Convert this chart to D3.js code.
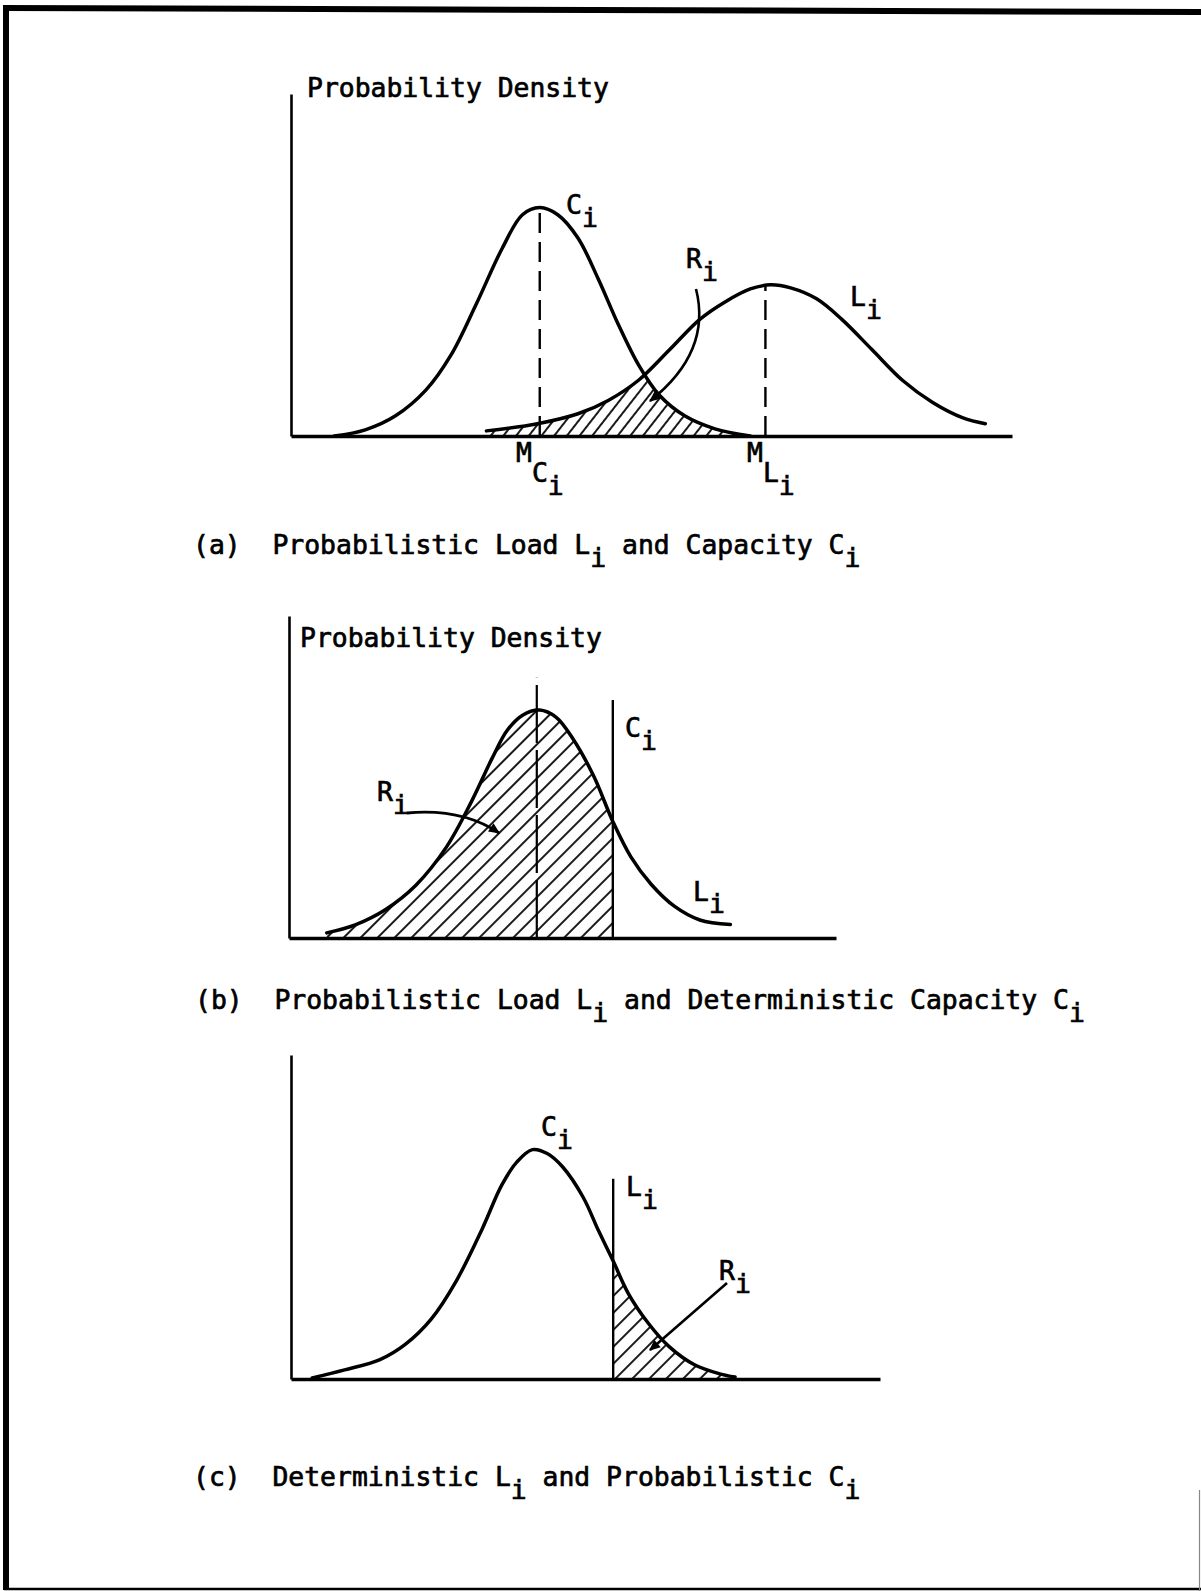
<!DOCTYPE html>
<html>
<head>
<meta charset="utf-8">
<script src="https://cdn.jsdelivr.net/npm/d3@7"></script>
<style>
  html, body { margin: 0; padding: 0; background: #fff; }
  svg { display: block; }
  text { font-family: "DejaVu Sans Mono", "Liberation Mono", monospace; fill: #000; stroke: #000; stroke-width: 0.7px; white-space: pre; }
</style>
</head>
<body>
<svg id="fig" width="1201" height="1591"></svg>
<script>
// ---- data (x: 0-100 along the horizontal axis, y: 0-100 up the vertical axis) ----

// (a) probabilistic capacity C_i and load L_i
const capacityA = [[6.0,0],[10.3,1.8],[14.5,5.9],[18.7,13.4],[22.2,23.7],[25.7,38.6],[29.3,54.9],[32.1,64.7],[34.5,66.8],[37.0,64.7],[39.8,57.9],[42.6,46.0],[45.4,32.6],[48.2,20.8],[51.1,11.9],[54.6,5.9],[58.8,2.1],[63.7,0]];
const loadA = [[27.1,1.5],[34.2,3.6],[39.8,6.5],[44.0,10.4],[48.2,16.3],[52.5,25.2],[56.7,34.1],[60.2,39.2],[63.7,43.0],[66.5,44.2],[69.3,43.3],[72.9,40.1],[76.4,34.1],[80.6,25.2],[84.8,16.3],[89.0,9.8],[93.2,5.3],[96.3,3.6]];
const meanCapacityA = 34.5;   // M_Ci
const meanLoadA = 65.8;       // M_Li

// (b) probabilistic load L_i, deterministic capacity C_i
const loadB = [[6.9,1.6],[12.1,4.1],[17.6,8.8],[23.2,16.4],[28.8,28.3],[33.4,42.5],[37.1,55.7],[39.9,64.5],[42.7,69.2],[45.8,70.8],[48.8,68.6],[51.9,61.9],[55.7,50.3],[59.2,36.2],[62.5,25.2],[66.2,16.7],[70.5,9.8],[75.1,5.6],[80.7,4.2]];
const meanLoadB = 45.3;
const meanLineTopB = 80.8;
const capacityB = 59.2;
const capacityLineTopB = 73.9;

// (c) deterministic load L_i, probabilistic capacity C_i
const capacityC = [[3.6,0.3],[9.1,2.8],[15.1,6.0],[19.4,10.7],[23.8,18.5],[28.1,30.4],[32.4,46.1],[35.8,59.9],[38.4,67.1],[41.0,70.8],[43.5,69.6],[46.1,65.5],[49.6,56.1],[52.2,45.8],[54.7,36.4],[57.3,26.3],[60.8,16.9],[64.2,10.0],[68.5,4.4],[72.8,1.6],[75.4,0.6]];
const loadC = 54.7;
const loadLineTopC = 61.8;

// text: [string, baseline offset in px] pieces
const axisTitle = "Probability Density";
const captionA = [["(a)  Probabilistic Load L",0],["i",13],[" and Capacity C",0],["i",13]];
const captionB = [["(b)  Probabilistic Load L",0],["i",13],[" and Deterministic Capacity C",0],["i",13]];
const captionC = [["(c)  Deterministic L",0],["i",13],[" and Probabilistic C",0],["i",13]];

// ---- drawing ----
const FS = 26.4;
const svg = d3.select("#fig");
const defs = svg.append("defs");

// page frame
const frame = svg.append("g").attr("stroke", "#000").attr("fill", "none");
frame.append("line").attr("x1", 3).attr("y1", 8).attr("x2", 1201).attr("y2", 12).attr("stroke-width", 6);
frame.append("line").attr("x1", 6).attr("y1", 6).attr("x2", 6).attr("y2", 1590).attr("stroke-width", 6);
frame.append("line").attr("x1", 4).attr("y1", 1589).attr("x2", 1201).attr("y2", 1589).attr("stroke-width", 2.5);
frame.append("line").attr("x1", 1199.5).attr("y1", 1490).attr("x2", 1199.5).attr("y2", 1591).attr("stroke-width", 1.2).attr("stroke", "#888");

function hatchPattern(id, spacing, angle) {
  const p = defs.append("pattern").attr("id", id)
    .attr("patternUnits", "userSpaceOnUse")
    .attr("width", spacing).attr("height", spacing)
    .attr("patternTransform", `rotate(${angle})`);
  p.append("line").attr("x1", spacing / 2).attr("y1", -1).attr("x2", spacing / 2).attr("y2", spacing + 1)
    .attr("stroke", "#000").attr("stroke-width", 1.8);
}
hatchPattern("hatchA", 10, 38);
hatchPattern("hatchB", 12, 45);
hatchPattern("hatchC", 12, 45);

defs.append("marker").attr("id", "arrowHead")
  .attr("viewBox", "0 0 10 10").attr("refX", 9).attr("refY", 5)
  .attr("markerWidth", 13).attr("markerHeight", 11).attr("markerUnits", "userSpaceOnUse")
  .attr("orient", "auto")
  .append("path").attr("d", "M0,0.5 L10,5 L0,9.5 z").attr("fill", "#000");

function label(g, x, y, parts, size) {
  const t = g.append("text").attr("x", x).attr("y", y).attr("font-size", size || FS);
  let shift = 0;
  parts.forEach(([s, off]) => {
    t.append("tspan").attr("dy", off - shift).text(s);
    shift = off;
  });
  return t;
}

function makePanel(box) {
  const x = d3.scaleLinear().domain([0, 100]).range([box.x0, box.x1]);
  const y = d3.scaleLinear().domain([0, 100]).range([box.yBase, box.yTop]);
  const line = d3.line().x(d => x(d[0])).y(d => y(d[1])).curve(d3.curveCatmullRom.alpha(0.5));
  const area = d3.area().x(d => x(d[0])).y0(y(0)).y1(d => y(d[1])).curve(d3.curveCatmullRom.alpha(0.5));
  const g = svg.append("g");
  return { x, y, line, area, g, box };
}

function drawAxes(P) {
  const ax = P.g.append("g").attr("transform", `translate(0,${P.box.yBase})`)
    .call(d3.axisBottom(P.x).tickValues([]).tickSizeOuter(0));
  const ay = P.g.append("g").attr("transform", `translate(${P.box.x0},0)`)
    .call(d3.axisLeft(P.y).tickValues([]).tickSizeOuter(0));
  ax.select(".domain").attr("stroke", "#000").attr("stroke-width", 3.4);
  ay.select(".domain").attr("stroke", "#000").attr("stroke-width", 2.6);
}

function curve(P, data) {
  P.g.append("path").attr("d", P.line(data)).attr("fill", "none")
    .attr("stroke", "#000").attr("stroke-width", 3.5).attr("stroke-linejoin", "round").attr("stroke-linecap", "round");
}

function vline(P, xv, top, dash, width) {
  P.g.append("line").attr("x1", P.x(xv)).attr("x2", P.x(xv))
    .attr("y1", P.y(0)).attr("y2", P.y(top))
    .attr("stroke", "#000").attr("stroke-width", width || 2)
    .attr("stroke-dasharray", dash || null);
}

function clip(id, d) {
  defs.append("clipPath").attr("id", id).append("path").attr("d", d);
}

// value of a sampled curve at xv (for line ends that meet the curve)
function valueAt(data, xv) {
  for (let k = 1; k < data.length; k++) {
    if (data[k][0] >= xv) {
      const [x0, y0] = data[k - 1], [x1, y1] = data[k];
      return y0 + (y1 - y0) * (xv - x0) / (x1 - x0);
    }
  }
  return 0;
}

// ---------- (a) ----------
{
  const P = makePanel({ x0: 291, x1: 1012, yBase: 436, yTop: 94 });
  clip("clipCapA", P.area(capacityA));
  clip("clipLoadA", P.area(loadA));
  P.g.append("g").attr("clip-path", "url(#clipCapA)")
    .append("g").attr("clip-path", "url(#clipLoadA)")
    .append("rect").attr("x", P.x(0)).attr("y", P.y(100)).attr("width", P.x(100) - P.x(0)).attr("height", P.y(0) - P.y(100))
    .attr("fill", "url(#hatchA)");
  vline(P, meanCapacityA, valueAt(capacityA, meanCapacityA), "20,9", 2.4);
  vline(P, meanLoadA, valueAt(loadA, meanLoadA), "20,9", 2.4);
  curve(P, capacityA);
  curve(P, loadA);
  drawAxes(P);

  label(P.g, 307, 97, [[axisTitle, 0]]);
  label(P.g, 566, 214, [["C", 0], ["i", 13]]);
  label(P.g, 686, 268, [["R", 0], ["i", 13]]);
  label(P.g, 850, 306, [["L", 0], ["i", 13]]);
  label(P.g, 516, 462, [["M", 0], ["C", 20], ["i", 33]]);
  label(P.g, 747, 462, [["M", 0], ["L", 20], ["i", 33]]);

  P.g.append("path").attr("d", "M696,289 Q712,352 650,401")
    .attr("fill", "none").attr("stroke", "#000").attr("stroke-width", 2.6)
    .attr("marker-end", "url(#arrowHead)");

  label(svg, 193, 554, captionA);
}

// ---------- (b) ----------
{
  const P = makePanel({ x0: 289, x1: 836, yBase: 938, yTop: 616 });
  clip("clipLoadB", P.area(loadB));
  P.g.append("g").attr("clip-path", "url(#clipLoadB)")
    .append("rect").attr("x", P.x(0)).attr("y", P.y(100)).attr("width", P.x(capacityB) - P.x(0)).attr("height", P.y(0) - P.y(100))
    .attr("fill", "url(#hatchB)");
  vline(P, meanLoadB, meanLineTopB, "58,7", 2.2);
  vline(P, capacityB, capacityLineTopB, null, 2.4);
  curve(P, loadB);
  drawAxes(P);

  label(P.g, 300, 647, [[axisTitle, 0]]);
  label(P.g, 625, 737, [["C", 0], ["i", 13]]);
  label(P.g, 377, 801, [["R", 0], ["i", 13]]);
  label(P.g, 693, 901, [["L", 0], ["i", 12]]);

  P.g.append("path").attr("d", "M407,813 Q462,808 499,833")
    .attr("fill", "none").attr("stroke", "#000").attr("stroke-width", 2.8)
    .attr("marker-end", "url(#arrowHead)");

  label(svg, 195, 1009, captionB);
}

// ---------- (c) ----------
{
  const P = makePanel({ x0: 291, x1: 880, yBase: 1379, yTop: 1055 });
  clip("clipCapC", P.area(capacityC));
  P.g.append("g").attr("clip-path", "url(#clipCapC)")
    .append("rect").attr("x", P.x(loadC)).attr("y", P.y(100)).attr("width", P.x(100) - P.x(loadC)).attr("height", P.y(0) - P.y(100))
    .attr("fill", "url(#hatchC)");
  vline(P, loadC, loadLineTopC, null, 2.4);
  curve(P, capacityC);
  drawAxes(P);

  label(P.g, 541, 1136, [["C", 0], ["i", 13]]);
  label(P.g, 626, 1196, [["L", 0], ["i", 13]]);
  label(P.g, 719, 1280, [["R", 0], ["i", 13]]);

  P.g.append("path").attr("d", "M727,1283 L650,1350")
    .attr("fill", "none").attr("stroke", "#000").attr("stroke-width", 2.6)
    .attr("marker-end", "url(#arrowHead)");

  label(svg, 193, 1486, captionC);
}
</script>
</body>
</html>
